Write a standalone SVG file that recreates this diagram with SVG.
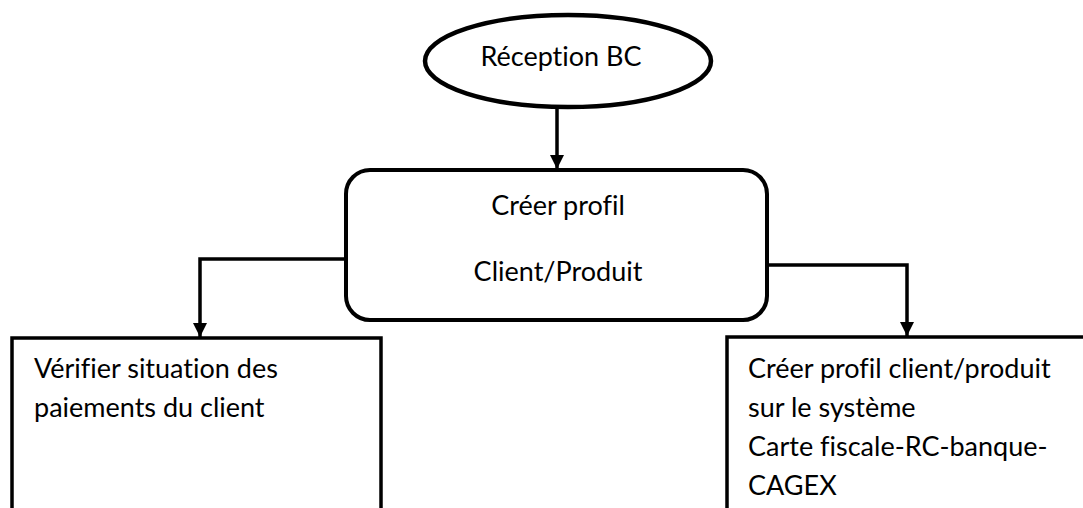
<svg xmlns="http://www.w3.org/2000/svg" width="1083" height="508" viewBox="0 0 1083 508">
  <style>
    .lbl { font-family: Lato, "Open Sans", "Liberation Sans", sans-serif; font-size: 27px; fill: #000; font-variant-ligatures: none; }
    .mid { text-anchor: middle; }
    .shape { fill: #fff; stroke: #000; }
    .wire { fill: none; stroke: #000; stroke-width: 3.5; }
  </style>
  <defs>
    <marker id="arrow" viewBox="0 0 14 14" refX="14" refY="7" markerWidth="14" markerHeight="14" markerUnits="userSpaceOnUse" orient="auto">
      <path d="M0,0 L14,7 L0,14 Z" fill="#000"/>
    </marker>
  </defs>

  <rect width="1083" height="508" fill="#fff"/>

  <!-- connectors -->
  <g id="connectors">
    <path class="wire" d="M557,108 V169" marker-end="url(#arrow)"/>
    <path class="wire" d="M346,259 H200 V337" marker-end="url(#arrow)"/>
    <path class="wire" d="M767,265 H907 V336" marker-end="url(#arrow)"/>
  </g>

  <!-- start: order reception -->
  <g id="node-reception">
    <ellipse class="shape" cx="568" cy="61" rx="143" ry="46" stroke-width="4.5"/>
    <text class="lbl mid" x="561" y="66">Réception BC</text>
  </g>

  <!-- create client/product profile -->
  <g id="node-profil">
    <rect class="shape" x="346" y="170" width="421" height="150" rx="24" ry="24" stroke-width="4"/>
    <text class="lbl mid" x="558" y="215">Créer profil</text>
    <text class="lbl mid" x="558" y="281">Client/Produit</text>
  </g>

  <!-- check client payments -->
  <g id="node-paiements">
    <rect class="shape" x="12" y="338" width="369" height="200" stroke-width="3.5"/>
    <text class="lbl" x="34" y="378">Vérifier situation des</text>
    <text class="lbl" x="34" y="417">paiements du client</text>
  </g>

  <!-- create profile in the system -->
  <g id="node-systeme">
    <rect class="shape" x="727" y="337" width="380" height="200" stroke-width="3.5"/>
    <text class="lbl" x="748" y="378">Créer profil client/produit</text>
    <text class="lbl" x="748" y="417">sur le système</text>
    <text class="lbl" x="748" y="456">Carte fiscale-RC-banque-</text>
    <text class="lbl" x="748" y="495">CAGEX</text>
  </g>
</svg>
